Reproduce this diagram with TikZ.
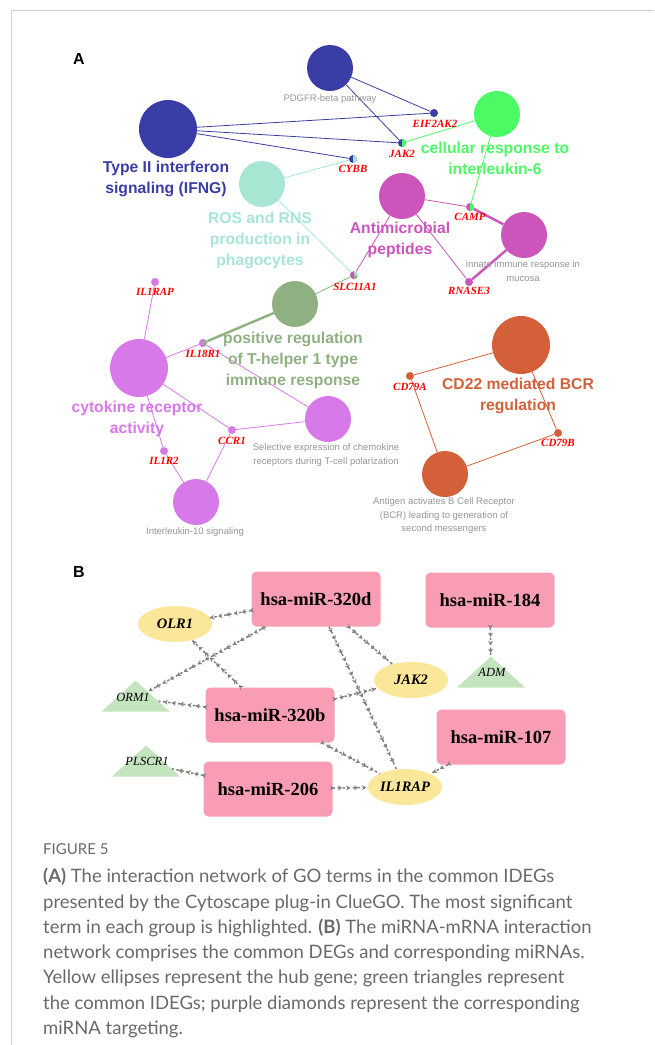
\documentclass[tikz,border=0pt]{standalone}
\usepackage{fontspec}
\setmainfont{Liberation Serif}
\setsansfont{Liberation Sans}
\newfontfamily\capfont{Lato}
\usetikzlibrary{shapes.geometric,decorations.markings,arrows.meta}

\definecolor{ifngc}{RGB}{58,61,165}
\definecolor{il6c}{RGB}{76,250,100}
\definecolor{rosc}{RGB}{168,230,212}
\definecolor{ampc}{RGB}{204,85,187}
\definecolor{th1c}{RGB}{143,176,128}
\definecolor{cytoc}{RGB}{215,121,233}
\definecolor{bcrc}{RGB}{212,96,58}
\definecolor{notegray}{RGB}{150,150,150}
\definecolor{mirpink}{RGB}{248,157,179}
\definecolor{hubyel}{RGB}{251,231,154}
\definecolor{degrn}{RGB}{196,228,191}
\definecolor{arrgray}{RGB}{128,128,128}
\definecolor{framegray}{RGB}{210,210,210}
\definecolor{capgray}{RGB}{105,105,105}

\begin{document}
\begin{tikzpicture}[x=1pt, y=-1pt,
    every node/.style={inner sep=0pt},
    term/.style={circle, fill=#1, minimum size=46},
    bigterm/.style={circle, fill=#1, minimum size=58},
    gene/.style={circle, fill=#1, minimum size=8},
    genename/.style={text=red, font=\fontsize{11}{12}\selectfont\bfseries\itshape},
    termname/.style={text=#1, align=center, font=\sffamily\fontsize{15.7}{21}\selectfont\bfseries},
    note/.style={text=notegray, align=center, font=\sffamily\fontsize{9.5}{13.5}\selectfont},
    link/.style={draw=#1, line width=0.8pt},
    heavy/.style={draw=#1, line width=2.4pt},
    panel/.style={font=\sffamily\fontsize{16}{18}\selectfont\bfseries},
    mirna/.style={rectangle, rounded corners=5pt, fill=mirpink, minimum width=129, minimum height=55,
        font=\fontsize{18.5}{20}\selectfont\bfseries},
    hub/.style={ellipse, fill=hubyel, minimum width=74, minimum height=36,
        font=\fontsize{14.5}{16}\selectfont\bfseries\itshape},
    deg/.style={isosceles triangle, isosceles triangle stretches, shape border rotate=90, fill=degrn,
        minimum width=68, minimum height=31, anchor=apex},
    degname/.style={font=\fontsize{12.5}{14}\selectfont\itshape},
    target/.style={draw=arrgray, line width=1.5pt, dash pattern=on 2.5pt off 2.5pt,
        postaction={decorate}, decoration={markings,
        mark=between positions 0.04 and 1 step 8pt with {\arrow{Stealth[length=4pt,width=5pt]}}}}]
\useasboundingbox (0,0) rectangle (654,1045);
\draw[framegray, line width=0.8pt] (654,10) -- (11,10) -- (11,1045);

% panel A
\node[panel] (lblA) at (79,59) {A};

\node[term=ifngc] (pdgfr) at (330,68) {};
\node[bigterm=ifngc] (ifng) at (168,129) {};
\node[term=il6c] (il6) at (497,114) {};
\node[term=rosc] (ros) at (262,184) {};
\node[term=ampc] (amp) at (402,196) {};
\node[term=ampc] (innate) at (524,235) {};
\node[term=th1c] (th1) at (295,304) {};
\node[bigterm=cytoc] (cyto) at (139,368) {};
\node[term=cytoc] (selexp) at (328,419) {};
\node[term=cytoc] (il10) at (196,502) {};
\node[bigterm=bcrc] (cd22) at (521,345) {};
\node[term=bcrc] (antigen) at (445,474) {};

\node[gene=ifngc] (eif2ak2) at (434,113) {};
\node[gene=ifngc] (jak2) at (402,143) {};
\node[gene=ifngc] (cybb) at (353,159) {};
\node[gene=ampc] (camp) at (470,207) {};
\node[gene=ampc] (rnase3) at (469,282) {};
\node[gene=rosc] (slc) at (354,275) {};
\node[gene=cytoc] (il1rap) at (155,282) {};
\node[gene=th1c] (il18r1) at (203,343) {};
\node[gene=cytoc] (ccr1) at (232,430) {};
\node[gene=cytoc] (il1r2) at (164,451) {};
\node[gene=bcrc] (cd79a) at (410,376) {};
\node[gene=bcrc] (cd79b) at (558,433) {};

\fill[il6c] (jak2.south) arc[start angle=-90, end angle=90, radius=4pt] -- cycle;
\fill[rosc] (cybb.south) arc[start angle=-90, end angle=90, radius=4pt] -- cycle;
\fill[il6c] (camp.south) arc[start angle=-90, end angle=90, radius=4pt] -- cycle;
\fill[ampc] (slc.south) arc[start angle=-90, end angle=-270, radius=4pt] -- cycle;
\fill[th1c] (slc.center) -- (slc.south) arc[start angle=-90, end angle=-20, radius=4pt] -- cycle;
\fill[cytoc] (il18r1.south) arc[start angle=-90, end angle=-270, radius=4pt] -- cycle;

\draw[link=ifngc] (pdgfr) -- (eif2ak2);
\draw[link=ifngc] (pdgfr) -- (jak2);
\draw[link=ifngc] (ifng) -- (eif2ak2);
\draw[link=ifngc] (ifng) -- (jak2);
\draw[link=ifngc] (ifng) -- (cybb);
\draw[link=rosc] (ros) -- (cybb);
\draw[link=rosc] (ros) -- (slc);
\draw[link=il6c] (jak2) -- (il6);
\draw[link=il6c] (il6) -- (camp);
\draw[link=ampc] (amp) -- (camp);
\draw[link=ampc] (amp) -- (rnase3);
\draw[link=ampc] (amp) -- (slc);
\draw[heavy=ampc] (camp) -- (innate);
\draw[heavy=ampc] (rnase3) -- (innate);
\draw[link=th1c] (slc) -- (th1);
\draw[heavy=th1c] (th1) -- (il18r1);
\draw[link=cytoc] (cyto) -- (il1rap);
\draw[link=cytoc] (cyto) -- (il18r1);
\draw[link=cytoc] (cyto) -- (ccr1);
\draw[link=cytoc] (cyto) -- (il1r2);
\draw[link=cytoc] (il18r1) -- (selexp);
\draw[link=cytoc] (ccr1) -- (selexp);
\draw[link=cytoc] (ccr1) -- (il10);
\draw[link=cytoc] (il1r2) -- (il10);
\draw[link=bcrc] (cd22) -- (cd79a);
\draw[link=bcrc] (cd22) -- (cd79b);
\draw[link=bcrc] (cd79a) -- (antigen);
\draw[link=bcrc] (cd79b) -- (antigen);

\node[genename] (eif2ak2-t) at (435,124) {EIF2AK2};
\node[genename] (jak2-t) at (402,154) {JAK2};
\node[genename] (cybb-t) at (353,169) {CYBB};
\node[genename] (camp-t) at (470,217) {CAMP};
\node[genename] (rnase3-t) at (469,291) {RNASE3};
\node[genename] (slc-t) at (355,287) {SLC11A1};
\node[genename] (il1rap-t) at (155,292) {IL1RAP};
\node[genename] (il18r1-t) at (203,354) {IL18R1};
\node[genename] (ccr1-t) at (232,441) {CCR1};
\node[genename] (il1r2-t) at (164,461) {IL1R2};
\node[genename] (cd79a-t) at (410,387) {CD79A};
\node[genename] (cd79b-t) at (558,443) {CD79B};

\node[termname=ifngc] (ifng-t) at (166,179) {Type II interferon\\signaling (IFNG)};
\node[termname=il6c] (il6-t) at (495,158) {cellular response to\\interleukin-6};
\node[termname=rosc] (ros-t) at (260,240) {ROS and RNS\\production in\\phagocytes};
\node[termname=ampc] (amp-t) at (400,240) {Antimicrobial\\peptides};
\node[termname=th1c] (th1-t) at (293,360) {positive regulation\\of T-helper 1 type\\immune response};
\node[termname=cytoc] (cyto-t) at (137,419) {cytokine receptor\\activity};
\node[termname=bcrc] (cd22-t) at (518,396) {CD22 mediated BCR\\regulation};

\node[note] (pdgfr-t) at (330,99) {PDGFR-beta pathway};
\node[note] (innate-t) at (523,271) {innate immune response in\\mucosa};
\node[note] (selexp-t) at (326,455) {Selective expression of chemokine\\receptors during T-cell polarization};
\node[note] (il10-t) at (195,532) {Interleukin-10 signaling};
\node[note] (antigen-t) at (444,516) {Antigen activates B Cell Receptor\\(BCR) leading to generation of\\second messengers};

% panel B
\node[panel] (lblB) at (79,572) {B};

\node[mirna] (m320d) at (316,599) {hsa-miR-320d};
\node[mirna] (m184) at (490,600) {hsa-miR-184};
\node[mirna] (m320b) at (270,715) {hsa-miR-320b};
\node[mirna] (m107) at (501,737) {hsa-miR-107};
\node[mirna] (m206) at (268,789) {hsa-miR-206};

\node[hub] (olr1) at (175,624) {OLR1};
\node[hub] (hjak2) at (411,680) {JAK2};
\node[hub] (hil1rap) at (405,787) {IL1RAP};

\node[deg] (orm1) at (135.5,680) {};
\node[deg] (plscr1) at (146,745) {};
\node[deg] (adm) at (491,656) {};
\node[degname] (orm1-t) at (133,697) {ORM1};
\node[degname] (plscr1-t) at (147,761) {PLSCR1};
\node[degname] (adm-t) at (492,672) {ADM};

\draw[target] (m320d) -- (olr1);
\draw[target] (m320d) -- (orm1);
\draw[target] (m320d) -- (hjak2);
\draw[target] (m320d) -- (hil1rap);
\draw[target] (m320b) -- (olr1);
\draw[target] (m320b) -- (orm1);
\draw[target] (m320b) -- (hjak2);
\draw[target] (m320b) -- (hil1rap);
\draw[target] (m206) -- (plscr1);
\draw[target] (m206) -- (hil1rap);
\draw[target] (m107) -- (hil1rap);
\draw[target] (m184) -- (adm);

% caption
\node[anchor=west, text=capgray, font=\capfont\fontsize{15}{17}\selectfont] (figno) at (43,849) {FIGURE 5};
\node[anchor=north west, align=left, text=capgray, font=\capfont\fontsize{18.5}{25.3}\selectfont] (caption) at (43,868)
  {{\bfseries(A)} The interaction network of GO terms in the common IDEGs\\
   presented by the Cytoscape plug-in ClueGO. The most significant\\
   term in each group is highlighted. {\bfseries(B)} The miRNA-mRNA interaction\\
   network comprises the common DEGs and corresponding miRNAs.\\
   Yellow ellipses represent the hub gene; green triangles represent\\
   the common IDEGs; purple diamonds represent the corresponding\\
   miRNA targeting.};
\end{tikzpicture}
\end{document}
